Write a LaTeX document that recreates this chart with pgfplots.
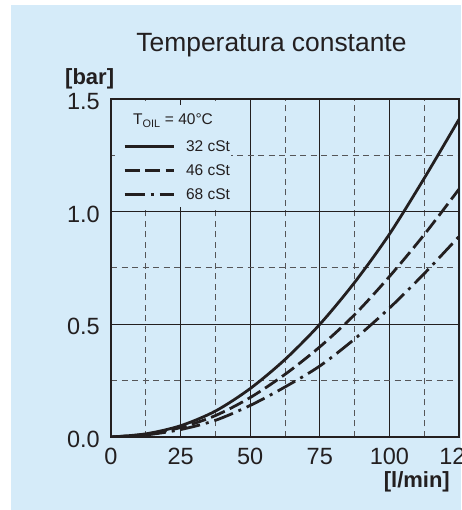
\documentclass[border=0pt]{standalone}
\usepackage{pgfplots}
\pgfplotsset{compat=1.18}
\usepackage{fontspec}
\setmainfont{Liberation Sans}
\definecolor{bgblue}{RGB}{213,235,249}
\definecolor{ink}{RGB}{35,31,32}
\definecolor{gridc}{RGB}{85,85,88}
\newcommand{\legfont}{\fontsize{15.5}{18}\selectfont}
\begin{document}
\begin{tikzpicture}[x=1pt,y=1pt]
\useasboundingbox (0,0) rectangle (461,510);
\clip (0,0) rectangle (461,510);
\fill[white] (0,0) rectangle (461,510);
\fill[bgblue] (11,0) rectangle (461,505);
\node[anchor=base, font=\fontsize{26.4}{30}\selectfont, text=ink] at (271.5,458) {Temperatura constante};
\node[anchor=base west, font=\fontsize{22}{26}\selectfont\bfseries, text=ink, inner sep=0pt] at (65,425) {[bar]};
\node[anchor=base east, font=\fontsize{22}{26}\selectfont\bfseries, text=ink, inner sep=0pt] at (450,22) {[l/min]};
\begin{axis}[
  at={(111pt,73pt)}, anchor=south west,
  scale only axis, width=348pt, height=338pt,
  xmin=0, xmax=125, ymin=0, ymax=1.5,
  xtick={0,25,50,75,100,125},
  ytick={0,0.5,1,1.5},
  minor xtick={12.5,37.5,62.5,87.5,112.5},
  minor ytick={0.25,0.75,1.25},
  grid=both,
  major grid style={draw=ink, line width=1.1pt},
  minor grid style={draw=gridc, line width=1pt, dash pattern=on 6pt off 4.5pt},
  major tick length=0pt, minor tick length=0pt,
  axis line style={draw=ink, line width=1.3pt},
  /pgf/number format/assume math mode=true,
  ticklabel style={font=\fontsize{23.5}{26}\selectfont, text=ink},
  xticklabel style={inner sep=0pt, anchor=north, yshift=-11pt},
  yticklabel style={inner sep=0pt, anchor=east, xshift=-11pt, yshift=-2.5pt,
    /pgf/number format/.cd, fixed, fixed zerofill, precision=1},
  legend style={at={(axis cs:4.31,1.318)}, anchor=north west, fill=none, draw=none,
    inner xsep=0pt, inner ysep=0pt, row sep=11.7pt, column sep=11pt,
    font=\legfont, text=ink, nodes={inner sep=0pt, font=\legfont}},
  legend cell align=left,
  legend image code/.code={\draw[#1] (0pt,0pt) -- (49pt,0pt);},
]
\fill[bgblue] (axis cs:1.44,1.021) rectangle (axis cs:43.1,1.473);
\node[anchor=base west, inner sep=0pt, text=ink, font=\legfont] at (axis cs:7.9,1.385) {T\textsubscript{OIL} = 40°C};
\addplot[ink, line width=2.8pt, smooth] coordinates {
(0,0)(12.5,0.014)(25,0.05)(37.5,0.115)(50,0.215)(62.5,0.344)(75,0.5)(87.5,0.686)(100,0.90)(112.5,1.148)(125,1.41)};
\addlegendentry{\legfont 32 cSt}
\addplot[ink, line width=2.8pt, smooth, dash pattern=on 15pt off 5.5pt] coordinates {
(0,0)(12.5,0.012)(25,0.042)(37.5,0.095)(50,0.175)(62.5,0.278)(75,0.4)(87.5,0.543)(100,0.712)(112.5,0.898)(125,1.1)};
\addlegendentry{\legfont 46 cSt}
\addplot[ink, line width=2.8pt, smooth, dash pattern=on 20pt off 6pt on 3pt off 6pt] coordinates {
(0,0)(12.5,0.009)(25,0.033)(37.5,0.074)(50,0.14)(62.5,0.222)(75,0.315)(87.5,0.435)(100,0.572)(112.5,0.725)(125,0.89)};
\addlegendentry{\legfont 68 cSt}
\end{axis}
\end{tikzpicture}
\end{document}
